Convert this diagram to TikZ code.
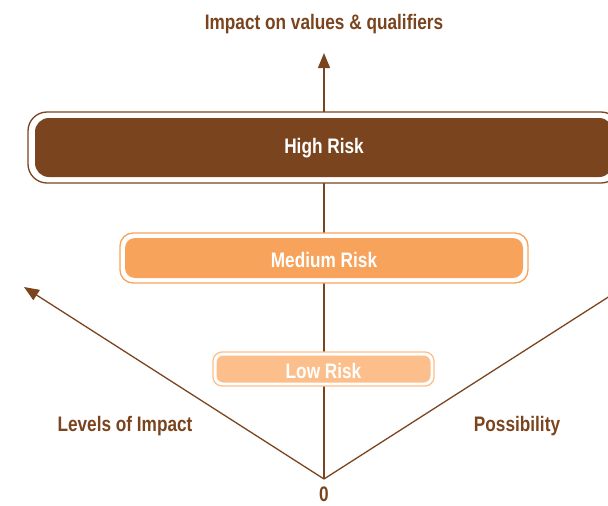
\documentclass[tikz,border=0pt]{standalone}
\usepackage{fontspec}
\setmainfont[FakeStretch=0.82]{Liberation Sans}
\usetikzlibrary{arrows.meta}
\definecolor{brownc}{HTML}{7A451E}
\definecolor{medc}{HTML}{F7A35B}
\definecolor{lowc}{HTML}{FCBF8B}
\tikzset{
  lbl/.style={font=\fontsize{21}{24}\selectfont\bfseries, text=brownc, inner sep=0pt},
  axis/.style={draw=brownc, line width=1.3pt, -{Triangle[length=15pt,width=12pt]}},
  outerbox/.style={draw=#1, fill=white, line width=1.3pt, inner sep=0pt},
  innerbox/.style={fill=#1, draw=none, inner sep=0pt},
  boxtext/.style={text=white, inner sep=0pt, font=\fontsize{21}{24}\selectfont\bfseries},
}
\begin{document}
\begin{tikzpicture}[x=1pt,y=-1pt]
\useasboundingbox (0,0) rectangle (608,506);
\clip (0,0) rectangle (608,506);
\coordinate (O) at (324,479);
\coordinate (top) at (324,53);
\coordinate (left) at (24,287);
\coordinate (right) at (624,287);
\draw[axis] (O) -- (top);
\draw[axis] (O) -- (left);
\draw[axis] (O) -- (right);
% High risk
\node[outerbox=brownc, rounded corners=19pt, minimum width=592pt, minimum height=71pt] (highout) at (324,147.5) {};
\node[innerbox=brownc, rounded corners=14pt, minimum width=578pt, minimum height=59pt] (high) at (324,147.5) {};
\node[boxtext] (hight) at (324,148.5) {High Risk};
% Medium risk
\node[outerbox=medc, rounded corners=13pt, minimum width=408pt, minimum height=50pt] (medout) at (324,258) {};
\node[innerbox=medc, rounded corners=10pt, minimum width=398pt, minimum height=40pt] (med) at (324,258) {};
\node[boxtext] (medt) at (324,259.5) {Medium Risk};
% Low risk
\node[outerbox=lowc, rounded corners=9pt, minimum width=221pt, minimum height=34pt] (lowout) at (323.5,369) {};
\node[innerbox=lowc, rounded corners=7pt, minimum width=214pt, minimum height=27pt] (low) at (323.5,369) {};
\node[boxtext] (lowt) at (323.5,370.5) {Low Risk};
% labels
\node[lbl] (title) at (324,24) {Impact on values \& qualifiers};
\node[lbl] (lev) at (125,426) {Levels of Impact};
\node[lbl] (pos) at (517,426) {Possibility};
\node[lbl] (zero) at (324,494) {0};
\end{tikzpicture}
\end{document}
